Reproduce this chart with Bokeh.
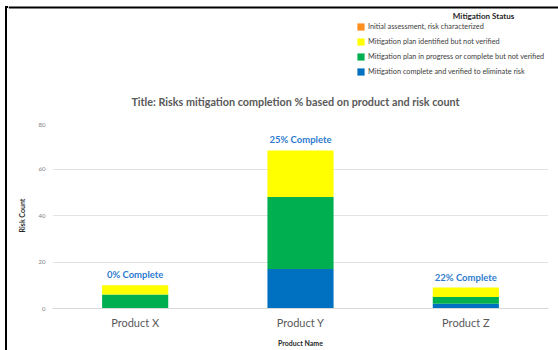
from bokeh.plotting import figure
from bokeh.layouts import column, row
from bokeh.models import (ColumnDataSource, FactorRange, Range1d, Legend, LegendItem,
                          Label, LabelSet, BoxAnnotation, SingleIntervalTicker, Div)
from bokeh.core.properties import value
from bokeh.embed import file_html
from bokeh.resources import INLINE

# ---- data ----
products = ["Product X", "Product Y", "Product Z"]
complete_verified = [0, 17, 2]     # Mitigation complete and verified to eliminate risk
in_progress = [6, 31, 3]           # Mitigation plan in progress or complete but not verified
identified = [4, 20, 4]            # Mitigation plan identified but not verified
initial = [0, 0, 0]                # Initial assessment, risk characterized
pct_labels = ["0% Complete", "25% Complete", "22% Complete"]
status_names = [
    "Mitigation complete and verified to eliminate risk",
    "Mitigation plan in progress or complete but not verified",
    "Mitigation plan identified but not verified",
    "Initial assessment, risk characterized",
]
status_colors = ["#0070C0", "#00B050", "#FFFF00", "#FF8F1F"]
chart_title = "Title: Risks mitigation completion % based on product and risk count"
legend_title = "Mitigation Status"

FONT = "Lato"

keys = ["complete", "progress", "identified", "initial"]
src = ColumnDataSource(dict(product=products, complete=complete_verified, progress=in_progress,
                            identified=identified, initial=initial))
totals = [a + b + c + d for a, b, c, d in zip(complete_verified, in_progress, identified, initial)]
lab_src = ColumnDataSource(dict(product=products, total=totals, label=pct_labels))


def bare(fig):
    fig.outline_line_color = None
    fig.background_fill_color = "white"
    fig.border_fill_color = "white"
    fig.min_border = 0
    fig.xgrid.visible = False
    fig.ygrid.visible = False


# ---- header (legend + title), canvas x 8..558, y 0..122 ----
top = figure(width=550, height=122, x_range=Range1d(8, 558), y_range=Range1d(122, 0),
             x_axis_type=None, y_axis_type=None, output_backend="svg", toolbar_location=None,
             frame_align=False)
bare(top)
# legend-only renderers (zero-size, nothing visible on the canvas)
dummies = [top.vbar(x=[0], top=[0], bottom=[0], width=0, fill_color=c, line_color=None)
           for c in status_colors]
items = [LegendItem(label=name, renderers=[r])
         for name, r in zip(status_names[::-1], dummies[::-1])]
legend = Legend(items=items, location=(348, 46), padding=0, margin=0, spacing=6,
                glyph_width=9, glyph_height=9, label_height=9, label_standoff=3,
                label_text_font=FONT, label_text_font_size="7.3px", label_text_color="#404040",
                label_text_baseline="middle",
                border_line_color=None, background_fill_alpha=0)
top.add_layout(legend)
top.add_layout(Label(x=483, y=15, text=legend_title,
                     text_align="center", text_baseline="middle", text_font=FONT,
                     text_font_size="8px", text_font_style="bold", text_color="#262626"))
top.add_layout(Label(x=295, y=101, text=chart_title,
                     text_align="center", text_baseline="middle", text_font=FONT,
                     text_font_size="10.8px", text_font_style="bold", text_color="#595959"))
top.add_layout(BoxAnnotation(left=8, right=558, top=6, bottom=8, fill_color="black",
                             fill_alpha=1, line_alpha=0))

# ---- left border ----
edge = Div(width=8, height=350, margin=0,
           text='<div style="position:absolute;left:5px;top:6px;width:2px;height:344px;'
                'background:#000"></div>'
                '<div style="position:absolute;left:5px;top:6px;width:3px;height:2px;'
                'background:#000"></div>')

# ---- chart, canvas x 8..558, y 122..350 ----
p = figure(width=550, height=228, x_range=FactorRange(*products), y_range=Range1d(0, 80),
           output_backend="svg", toolbar_location=None, frame_align=False)
p.outline_line_color = None
p.background_fill_color = "white"
p.border_fill_color = "white"
p.min_border_left = 44
p.min_border_right = 10
p.min_border_top = 0
p.min_border_bottom = 42

renderers = p.vbar_stack(keys, x="product", width=0.4, color=status_colors,
                         line_color=None, source=src)

p.yaxis.ticker = SingleIntervalTicker(interval=20)
p.yaxis.axis_line_color = None
p.yaxis.major_tick_line_color = None
p.yaxis.minor_tick_line_color = None
p.yaxis.major_tick_out = 0
p.yaxis.major_tick_in = 0
p.yaxis.minor_tick_out = 0
p.yaxis.major_label_text_font = FONT
p.yaxis.major_label_text_font_size = "6px"
p.yaxis.major_label_text_color = "#808080"
p.yaxis.major_label_standoff = 7
p.yaxis.axis_label = "Risk Count"
p.yaxis.axis_label_text_font = FONT
p.yaxis.axis_label_text_font_size = "7px"
p.yaxis.axis_label_text_font_style = "bold"
p.yaxis.axis_label_text_color = "#262626"
p.yaxis.axis_label_standoff = 10

p.xaxis.axis_line_color = "#d9d9d9"
p.xaxis.major_tick_line_color = None
p.xaxis.minor_tick_line_color = None
p.xaxis.major_tick_out = 0
p.xaxis.major_tick_in = 0
p.xaxis.minor_tick_out = 0
p.xaxis.major_label_text_font = FONT
p.xaxis.major_label_text_font_size = "11px"
p.xaxis.major_label_text_color = "#595959"
p.xaxis.major_label_standoff = 7
p.xaxis.axis_label = "Product Name"
p.xaxis.axis_label_text_font = FONT
p.xaxis.axis_label_text_font_size = "7px"
p.xaxis.axis_label_text_font_style = "bold"
p.xaxis.axis_label_text_color = "#262626"
p.xaxis.axis_label_standoff = 7

p.xgrid.grid_line_color = None
p.ygrid.grid_line_color = "#e3e3e3"

p.add_layout(LabelSet(x="product", y="total", text="label", source=lab_src, y_offset=5,
                      text_align="center", text_baseline="bottom", text_font=value(FONT),
                      text_font_size="9.5px", text_font_style="bold", text_color="#2E7BCF"))

layout = row(edge, column(top, p, spacing=0), spacing=0)

open("out.html", "w").write(file_html(layout, INLINE))
